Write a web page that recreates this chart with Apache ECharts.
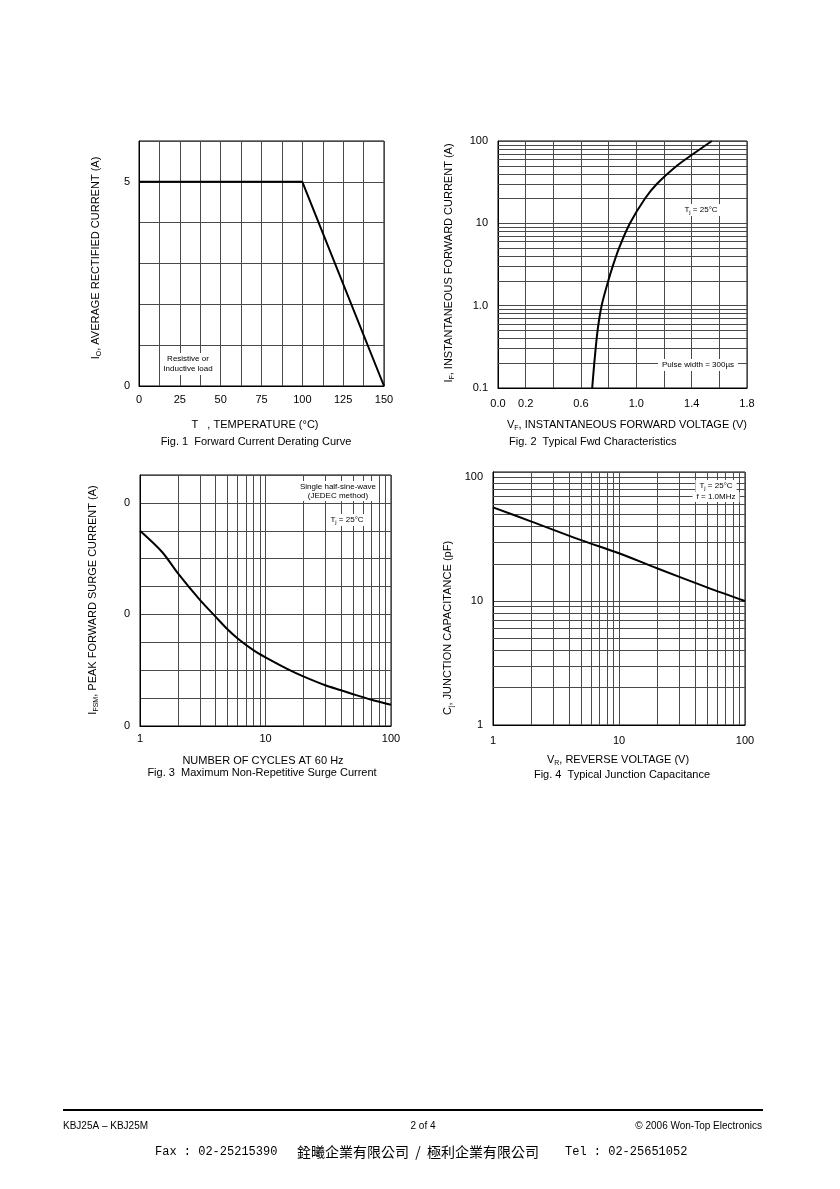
<!DOCTYPE html>
<html>
<head>
<meta charset="utf-8">
<script src="https://cdn.jsdelivr.net/npm/echarts@6/dist/echarts.min.js"></script>
<style>
html,body{margin:0;padding:0;background:#fff;}
#c{width:840px;height:1189px;}
</style>
</head>
<body>
<div id="c"></div>
<script>
// ---- Fig. 1 Forward Current Derating Curve ----
const fig1Temp = [0, 100, 150];
const fig1Current = [5, 5, 0];
const fig1XLabels = [0, 25, 50, 75, 100, 125, 150];
const fig1YLabels = [0, 5];

// ---- Fig. 2 Typical Fwd Characteristics ----
const fig2Voltage = [0.681, 0.696, 0.72, 0.749, 0.797, 0.829, 0.875, 0.954, 1.063, 1.148, 1.293, 1.413, 1.546];
const fig2Current = [0.1, 0.2, 0.5, 1, 2, 3, 5, 10, 20, 30, 50, 70, 100];
const fig2XLabels = ['0.0', '0.2', '0.6', '1.0', '1.4', '1.8'];
const fig2YMinor = [0.2,0.3,0.4,0.5,0.6,0.7,0.8,0.9, 2,3,4,5,6,7,8,9, 20,30,40,50,60,70,80,90];

// ---- Fig. 3 Maximum Non-Repetitive Surge Current ----
const fig3Cycles = [1, 1.5, 2, 3, 4, 5, 6, 8, 10, 15, 20, 30, 40, 50, 70, 100];
const fig3Surge = [350, 312, 274, 226, 196, 173, 157, 136, 123, 102, 89, 73, 64, 57, 47, 38];
const fig3YLabelValues = [0, 200, 400];
const fig3YLabelText = '0';

// ---- Fig. 4 Typical Junction Capacitance ----
const fig4Voltage = [1, 2, 5, 10, 20, 50, 100];
const fig4Cap = [57, 44, 31, 24.3, 18.4, 12.9, 10];

const logMinor = [2,3,4,5,6,7,8,9, 20,30,40,50,60,70,80,90];

const FONT = '"Liberation Sans", Arial, Helvetica, sans-serif';
const GRID_COLOR = '#4a4a4a';
const zip = (a, b) => a.map((v, i) => [v, b[i]]);

const chart = echarts.init(document.getElementById('c'), null, {renderer: 'canvas'});

const gridBase = {show: true, borderColor: '#000', borderWidth: 1, backgroundColor: 'transparent', containLabel: false};
const axisCommon = {
  axisLine: {show: true, lineStyle: {color: '#000', width: 1}},
  axisTick: {show: false},
  splitLine: {show: true, lineStyle: {color: GRID_COLOR, width: 1}},
};
const lbl = (extra) => Object.assign({color: '#000', fontFamily: FONT, fontSize: 11}, extra);
const isPow10 = v => Math.abs(Math.log10(v) - Math.round(Math.log10(v))) < 1e-6;

function minorLines(axisKey, values) {
  return {
    symbol: ['none', 'none'], silent: true, animation: false,
    label: {show: false},
    lineStyle: {color: GRID_COLOR, width: 1, type: 'solid'},
    emphasis: {disabled: true},
    data: values.map(v => ({[axisKey]: v}))
  };
}

const richSub = {
  n: {fontFamily: FONT, fontSize: 11, color: '#000', lineHeight: 14},
  s: {fontFamily: FONT, fontSize: 7, color: '#000', lineHeight: 14, verticalAlign: 'bottom', padding: [5, 0, 0, 0]}
};
const richSmall = {
  n: {fontFamily: FONT, fontSize: 8, color: '#000', lineHeight: 10},
  s: {fontFamily: FONT, fontSize: 6, color: '#000', lineHeight: 10, verticalAlign: 'bottom', padding: [4, 0, 0, 0]}
};

function txt(x, y, text, opts) {
  opts = opts || {};
  return {
    type: 'text', x: x, y: y, rotation: opts.rotation || 0, silent: true, z: 50,
    style: Object.assign({
      text: text,
      fill: '#000',
      font: (opts.fontSize || 11) + 'px ' + FONT,
      fontSize: opts.fontSize || 11,
      fontFamily: opts.fontFamily || FONT,
      align: opts.align || 'center', textAlign: opts.align || 'center',
      verticalAlign: 'middle', textVerticalAlign: 'middle'
    }, opts.style || {})
  };
}

const option = {
  animation: false,
  backgroundColor: '#fff',
  grid: [
    Object.assign({left: 139, top: 141, width: 245, height: 245}, gridBase),
    Object.assign({left: 498, top: 141, width: 249, height: 247}, gridBase),
    Object.assign({left: 140, top: 475, width: 251, height: 251}, gridBase),
    Object.assign({left: 493, top: 472, width: 252, height: 253}, gridBase)
  ],
  xAxis: [
    Object.assign({}, axisCommon, {
      gridIndex: 0, type: 'value', min: 0, max: 150, interval: 12.5,
      axisLabel: lbl({margin: 8, formatter: v => fig1XLabels.indexOf(v) >= 0 ? String(v) : ''})
    }),
    Object.assign({}, axisCommon, {
      gridIndex: 1, type: 'value', min: 0, max: 1.8, interval: 0.2,
      axisLabel: lbl({margin: 10, formatter: v => { const s = v.toFixed(1); return fig2XLabels.indexOf(s) >= 0 ? s : ''; }})
    }),
    Object.assign({}, axisCommon, {
      gridIndex: 2, type: 'log', logBase: 10, min: 1, max: 100,
      axisLabel: lbl({margin: 7, formatter: v => isPow10(v) ? String(Math.round(v)) : ''})
    }),
    Object.assign({}, axisCommon, {
      gridIndex: 3, type: 'log', logBase: 10, min: 1, max: 100,
      axisLabel: lbl({margin: 10, formatter: v => isPow10(v) ? String(Math.round(v)) : ''})
    })
  ],
  yAxis: [
    Object.assign({}, axisCommon, {
      gridIndex: 0, type: 'value', min: 0, max: 6, interval: 1,
      axisLabel: lbl({margin: 9, formatter: v => fig1YLabels.indexOf(v) >= 0 ? String(v) : ''})
    }),
    Object.assign({}, axisCommon, {
      gridIndex: 1, type: 'log', logBase: 10, min: 0.1, max: 100,
      axisLabel: lbl({margin: 10, formatter: v => {
        if (!isPow10(v)) return '';
        const e = Math.round(Math.log10(v));
        return e === -1 ? '0.1' : e === 0 ? '1.0' : String(Math.round(v));
      }})
    }),
    Object.assign({}, axisCommon, {
      gridIndex: 2, type: 'value', min: 0, max: 450, interval: 50,
      axisLabel: lbl({margin: 10, formatter: v => fig3YLabelValues.indexOf(v) >= 0 ? fig3YLabelText : ''})
    }),
    Object.assign({}, axisCommon, {
      gridIndex: 3, type: 'log', logBase: 10, min: 1, max: 110,
      axisLabel: lbl({margin: 10, formatter: v => isPow10(v) ? String(Math.round(v)) : ''})
    })
  ],
  series: [
    {type: 'line', xAxisIndex: 0, yAxisIndex: 0, data: zip(fig1Temp, fig1Current),
     symbol: 'none', lineStyle: {color: '#000', width: 2}, z: 5},

    {type: 'line', xAxisIndex: 1, yAxisIndex: 1, data: zip(fig2Voltage, fig2Current),
     symbol: 'none', lineStyle: {opacity: 0}, z: 1, markLine: minorLines('yAxis', fig2YMinor)},
    {type: 'line', xAxisIndex: 1, yAxisIndex: 1, data: zip(fig2Voltage, fig2Current),
     symbol: 'none', smooth: 0.3, lineStyle: {color: '#000', width: 2}, z: 5},

    {type: 'line', xAxisIndex: 2, yAxisIndex: 2, data: zip(fig3Cycles, fig3Surge),
     symbol: 'none', lineStyle: {opacity: 0}, z: 1, markLine: minorLines('xAxis', logMinor)},
    {type: 'line', xAxisIndex: 2, yAxisIndex: 2, data: zip(fig3Cycles, fig3Surge),
     symbol: 'none', smooth: 0.3, lineStyle: {color: '#000', width: 2}, z: 5},

    {type: 'line', xAxisIndex: 3, yAxisIndex: 3, data: zip(fig4Voltage, fig4Cap),
     symbol: 'none', lineStyle: {opacity: 0}, z: 1, markLine: minorLines('xAxis', logMinor)},
    {type: 'line', xAxisIndex: 3, yAxisIndex: 3, data: zip(fig4Voltage, fig4Cap),
     symbol: 'none', lineStyle: {opacity: 0}, z: 1, markLine: minorLines('yAxis', logMinor)},
    {type: 'line', xAxisIndex: 3, yAxisIndex: 3, data: zip(fig4Voltage, fig4Cap),
     symbol: 'none', smooth: 0.3, lineStyle: {color: '#000', width: 2}, z: 5}
  ],
  graphic: {elements: [
    // Fig 1 texts
    txt(96, 258, '{n|I}{s|O}{n|, AVERAGE RECTIFIED CURRENT (A)}', {rotation: Math.PI / 2, style: {rich: richSub}}),
    txt(255, 425, 'T   , TEMPERATURE (°C)'),
    txt(256, 442, 'Fig. 1  Forward Current Derating Curve'),
    txt(188, 364, 'Resistive or\nInductive load', {fontSize: 8, style: {backgroundColor: '#fff', padding: [1, 2], lineHeight: 10}}),

    // Fig 2 texts
    txt(449, 263, '{n|I}{s|F}{n|, INSTANTANEOUS FORWARD CURRENT (A)}', {rotation: Math.PI / 2, style: {rich: richSub}}),
    txt(507, 425, '{n|V}{s|F}{n|, INSTANTANEOUS FORWARD VOLTAGE (V)}', {align: 'left', style: {rich: richSub}}),
    txt(509, 442, 'Fig. 2  Typical Fwd Characteristics', {align: 'left'}),
    txt(701, 210, '{n|T}{s|j}{n| = 25°C}', {style: {rich: richSmall, backgroundColor: '#fff', padding: [1, 3]}}),
    txt(698, 365, 'Pulse width = 300µs', {fontSize: 8, style: {backgroundColor: '#fff', padding: [2, 4]}}),

    // Fig 3 texts
    txt(93, 600, '{n|I}{s|FSM}{n|, PEAK FORWARD SURGE CURRENT (A)}', {rotation: Math.PI / 2, style: {rich: richSub}}),
    txt(263, 761, 'NUMBER OF CYCLES AT 60 Hz'),
    txt(262, 773, 'Fig. 3  Maximum Non-Repetitive Surge Current'),
    txt(338, 491, 'Single half-sine-wave\n(JEDEC method)', {fontSize: 8, style: {backgroundColor: '#fff', padding: [1, 2], lineHeight: 9}}),
    txt(347, 520, '{n|T}{s|j}{n| = 25°C}', {style: {rich: richSmall, backgroundColor: '#fff', padding: [1, 3]}}),

    // Fig 4 texts
    txt(448, 628, '{n|C}{s|j}{n|, JUNCTION CAPACITANCE (pF)}', {rotation: Math.PI / 2, style: {rich: richSub}}),
    txt(618, 760, '{n|V}{s|R}{n|, REVERSE VOLTAGE (V)}', {style: {rich: richSub}}),
    txt(622, 775, 'Fig. 4  Typical Junction Capacitance'),
    txt(716, 486, '{n|T}{s|j}{n| = 25°C}', {style: {rich: richSmall, backgroundColor: '#fff', padding: [1, 4]}}),
    txt(716, 497, 'f = 1.0MHz', {fontSize: 8, style: {backgroundColor: '#fff', padding: [1, 4]}}),

    // Footer
    {type: 'line', silent: true, shape: {x1: 63, y1: 1110, x2: 763, y2: 1110}, style: {stroke: '#000', lineWidth: 2}},
    txt(63, 1126, 'KBJ25A – KBJ25M', {align: 'left', fontSize: 10}),
    txt(423, 1126, '2 of 4', {fontSize: 10}),
    txt(762, 1126, '© 2006 Won-Top Electronics', {align: 'right', fontSize: 10}),
    txt(155, 1152, 'Fax : 02-25215390', {align: 'left', fontSize: 12, fontFamily: '"Liberation Mono", monospace', style: {font: '12px "Liberation Mono", monospace'}}),
    txt(297, 1152, '銓曦企業有限公司  /  極利企業有限公司', {align: 'left', fontSize: 14, fontFamily: '"Noto Sans CJK TC", sans-serif', style: {font: '14px "Noto Sans CJK TC", sans-serif'}}),
    txt(565, 1152, 'Tel : 02-25651052', {align: 'left', fontSize: 12, fontFamily: '"Liberation Mono", monospace', style: {font: '12px "Liberation Mono", monospace'}})
  ]}
};

chart.setOption(option);
</script>
</body>
</html>
